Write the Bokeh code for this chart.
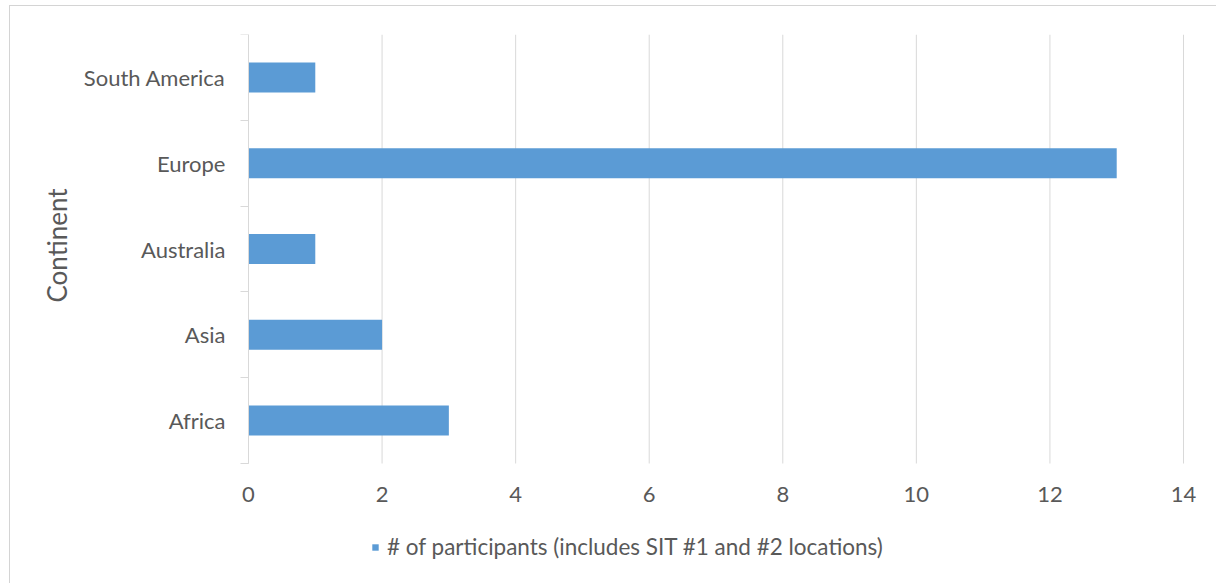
from bokeh.plotting import figure
from bokeh.models import Range1d, FixedTicker, Legend, LegendItem, Title
from bokeh.embed import file_html
from bokeh.resources import INLINE

categories = ["Africa", "Asia", "Australia", "Europe", "South America"]
participants = [3, 2, 1, 13, 1]
x_ticks = [0, 2, 4, 6, 8, 10, 12, 14]
series_name = "# of participants (includes SIT #1 and #2 locations)"
axis_title = "Continent"

FONT = "Lato"
TXT = "#595959"
GRID = "#D9D9D9"
BAR = "#5B9BD5"

n = len(categories)
centers = [i + 0.5 for i in range(n)]
x_max = x_ticks[-1]

# layout in pixels
cat_px = 429.0      # height of the category area
below_px = 121.0    # room under it for x labels + legend
val_px = 935.0      # width of the 0..x_max value area
left_px = 170.0     # room left of x=0 for category labels
right_px = 22.0     # room right of x_max for the last tick label
ppu = val_px / x_max

p = figure(width=1207, height=578, output_backend="svg", toolbar_location=None,
           x_range=Range1d(-left_px / ppu, x_max + right_px / ppu),
           y_range=Range1d(-below_px / (cat_px / n), n),
           min_border_left=68, min_border_right=12, min_border_top=28, min_border_bottom=0)
p.margin = (5, 0, 0, 9)
p.styles = {"border-top": "1px solid #D4D4D4", "border-left": "1px solid #D4D4D4"}
p.outline_line_color = None
p.background_fill_color = "white"
p.border_fill_color = "white"

# vertical gridlines limited to the category area
p.segment(x0=x_ticks, y0=0, x1=x_ticks, y1=n, line_color=GRID, line_width=1)

r = p.hbar(y=centers, left=0, right=participants, height=0.35, fill_color=BAR, line_color=None)

# x axis (labels only), sitting at y = 0
p.xaxis.fixed_location = 0
p.xaxis.ticker = FixedTicker(ticks=x_ticks)
p.xaxis.axis_line_color = None
p.xaxis.major_tick_line_color = None
p.xaxis.minor_tick_line_color = None
p.xaxis.major_tick_out = 0
p.xaxis.major_tick_in = 0
p.xaxis.major_label_text_font = FONT
p.xaxis.major_label_text_font_size = "22px"
p.xaxis.major_label_text_color = TXT
p.xaxis.major_label_standoff = 23
p.xgrid.grid_line_color = None
p.ygrid.grid_line_color = None

# y axis, sitting at x = 0
p.yaxis.fixed_location = 0
p.yaxis.bounds = (0, n)
p.yaxis.ticker = FixedTicker(ticks=centers, minor_ticks=list(range(n + 1)))
p.yaxis.major_label_overrides = {c: name for c, name in zip(centers, categories)}
p.yaxis.axis_line_color = GRID
p.yaxis.major_tick_line_color = None
p.yaxis.major_tick_out = 0
p.yaxis.major_tick_in = 0
p.yaxis.minor_tick_line_color = GRID
p.yaxis.minor_tick_out = 8
p.yaxis.minor_tick_in = 0
p.yaxis.major_label_text_font = FONT
p.yaxis.major_label_text_font_size = "22px"
p.yaxis.major_label_text_color = TXT
p.yaxis.major_label_standoff = 15

t = Title(text=axis_title, align="left", offset=282, standoff=12,
          text_font=FONT, text_font_size="26px", text_font_style="normal",
          text_color=TXT)
p.add_layout(t, "left")

legend = Legend(items=[LegendItem(label=series_name, renderers=[r])],
                location=(123 + left_px, 24), orientation="horizontal",
                glyph_width=8, glyph_height=8, label_standoff=8,
                padding=0, margin=0, border_line_color=None,
                background_fill_alpha=0,
                label_text_font=FONT, label_text_font_size="22.5px",
                label_text_color=TXT)
p.add_layout(legend)

open("out.html", "w").write(file_html(p, INLINE))
